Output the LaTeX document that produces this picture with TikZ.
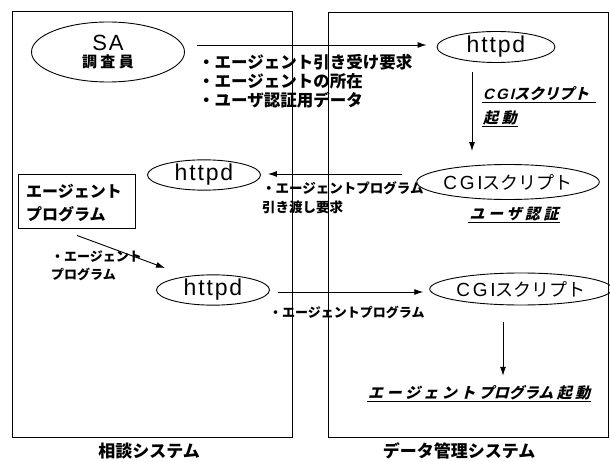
\documentclass[tikz,border=0pt]{standalone}
\usepackage{fontspec}
\usetikzlibrary{shapes.geometric,arrows.meta,calc}
\newfontfamily\jp{Noto Sans CJK JP}
\newfontfamily\jpit{Noto Sans CJK JP}[FakeSlant=0.25,BoldFeatures={FakeSlant=0.25}]
\newfontfamily\lat{Liberation Sans}[LetterSpace=8]
\newfontfamily\latw{Liberation Sans}[LetterSpace=14]
\newfontfamily\latit{Liberation Sans}[LetterSpace=14,FakeSlant=0.25,BoldFeatures={FakeSlant=0.25}]
\newcommand{\fs}[1]{\fontsize{#1}{#1}\selectfont}
\newcommand{\fsb}[2]{\fontsize{#1}{#2}\selectfont}
\tikzset{
  ell/.style={draw,ellipse,line width=0.9pt,inner sep=0pt},
  arr/.style={line width=0.9pt,-{Latex[length=9pt,width=6pt]}},
  sys/.style={draw,line width=0.9pt},
  jtxt/.style={inner sep=0pt,font=\jp\bfseries},
  itxt/.style={inner sep=1pt,font=\jpit\bfseries},
}
\begin{document}
\begin{tikzpicture}[x=1pt,y=-1pt]
\useasboundingbox (0,0) rectangle (610,462);
% system frames
\draw[sys] (12,11) rectangle (292,437);
\draw[sys] (328,12) rectangle (608,437);
\node[jtxt] (lsys) at (149,451) {\fs{17}相談システム};
\node[jtxt] (rsys) at (459,451) {\fs{17}データ管理システム};

% SA
\node[ell,minimum width=153pt,minimum height=60pt,align=center] (sa) at (108,52)
  {{\lat\fs{22}SA}\\[3pt]{\jp\bfseries\fs{15}調 査 員}};
\node[ell,minimum width=118pt,minimum height=31pt] (h1) at (496,47) {\lat\fs{23}httpd};
\draw[arr] ($(sa.east)+(12,-7)$) -- ($(h1.west)+(-10,-2)$);
\node[jtxt,anchor=west,align=left,font=\jp\bfseries\fsb{16.5}{19}] (req) at (198,81)
  {・エージェント引き受け要求\\・エージェントの所在\\・ユーザ認証用データ};

% CGI 1
\node[ell,minimum width=173pt,minimum height=35pt] (c1) at (508,182)
  {{\latw\fs{19}CGI}{\jp\fs{18}スクリプト}};
\draw[arr] ($(h1.south)+(-24,9)$) -- ($(c1.north)+(-36,-13)$);
\node[itxt,anchor=south west] (cgl1) at (482,102) {\fs{15}{\latit\bfseries CGI}スクリプト};
\draw[line width=0.8pt] (cgl1.south west) -- (cgl1.south -| 596,0);
\node[itxt,anchor=south west] (cgl2) at (482,126) {\fs{15}起 動};
\draw[line width=0.8pt] (cgl2.south west) -- (cgl2.south east);
\node[itxt,anchor=south] (auth) at (514,222) {\fs{15}ユ ー ザ 認 証};
\draw[line width=0.8pt] (auth.south west) -- (auth.south east);

% httpd left
\node[ell,minimum width=113pt,minimum height=28pt] (h2) at (204,175) {\lat\fs{23}httpd};
\draw[arr] ($(c1.west)+(-14,-8)$) -- ($(h2.east)+(7,-1)$);
\node[jtxt,anchor=north west,align=left,font=\jp\bfseries\fsb{13.5}{19}] (hand) at (262,181)
  {・エージェントプログラム\\引き渡し要求};

% agent program box
\node[draw,line width=0.9pt,minimum width=117pt,minimum height=54pt,inner sep=0pt] (ap) at (76.5,201) {};
\node[jtxt,anchor=west,align=left,font=\jp\bfseries\fsb{16}{23}] (aptxt) at (26,203)
  {エージェント\\プログラム};

% httpd lower
\node[ell,minimum width=113pt,minimum height=30pt] (h3) at (213,290) {\lat\fs{23}httpd};
\draw[arr] ($(ap.south)+(0.5,7)$) -- ($(h3.center)+(-48,-22)$);
\node[jtxt,anchor=west,align=left,font=\jp\bfseries\fsb{13}{18}] (dl) at (51,266)
  {・エージェント\\プログラム};

% CGI 2
\node[ell,minimum width=167pt,minimum height=32pt] (c2) at (521,289)
  {{\latw\fs{19}CGI}{\jp\fs{18}スクリプト}};
\draw[arr] ($(h3.east)+(8,2)$) -- ($(c2.west)+(-6,3)$);
\node[jtxt,anchor=west,font=\jp\bfseries\fs{13}] (ap2) at (269,312) {・エージェントプログラム};

\node[itxt,anchor=south west] (start) at (367,401) {\fs{15}エ ー ジ ェ ン ト プログラム 起 動};
\draw[line width=0.8pt] (start.south west) -- (start.south east);
\coordinate (d2s) at ($(c2.south)+(-18,17)$);
\coordinate (d2e) at ($(start.north)+(0,-8)$);
\draw[arr] (d2s) -- (d2s |- d2e);
\end{tikzpicture}
\end{document}
